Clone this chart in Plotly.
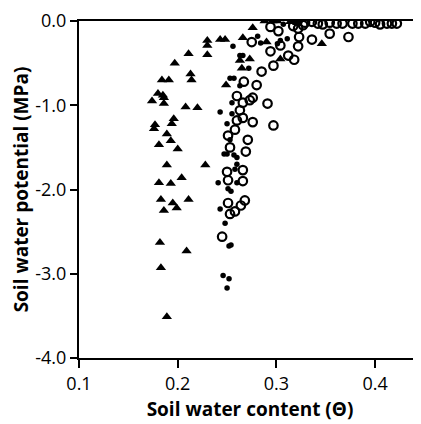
import plotly.graph_objects as go

# filled triangles
tri_x = [0.288, 0.296, 0.301, 0.314, 0.319, 0.321, 0.276, 0.230, 0.230, 0.230,
         0.243, 0.248, 0.266, 0.290, 0.346, 0.211, 0.197, 0.213, 0.214, 0.184,
         0.191, 0.263, 0.273, 0.265, 0.304, 0.180, 0.185, 0.186, 0.186, 0.174,
         0.249, 0.208, 0.220, 0.196, 0.194, 0.177, 0.176, 0.189, 0.181, 0.193,
         0.200, 0.189, 0.228, 0.181, 0.193, 0.204, 0.183, 0.195, 0.199, 0.211,
         0.186, 0.182, 0.209, 0.183, 0.189]
tri_y = [0.00, 0.00, 0.00, -0.01, 0.00, -0.02, -0.08, -0.23, -0.29, -0.40,
         -0.22, -0.22, -0.20, -0.25, -0.27, -0.39, -0.50, -0.63, -0.70, -0.70,
         -0.70, -0.47, -0.45, -0.56, -0.45, -0.86, -0.88, -0.91, -0.98, -0.95,
         -0.76, -1.02, -1.03, -1.16, -1.22, -1.23, -1.28, -1.34, -1.47, -1.42,
         -1.52, -1.71, -1.71, -1.92, -1.93, -1.86, -2.12, -2.16, -2.22, -2.12,
         -2.25, -2.63, -2.73, -2.93, -3.51]

# small filled dots
dot_x = [0.256, 0.281, 0.284, 0.263, 0.266, 0.272, 0.253, 0.257, 0.263, 0.255,
         0.243, 0.255, 0.250, 0.253, 0.301, 0.304, 0.311, 0.247, 0.250, 0.257,
         0.260, 0.260, 0.258, 0.241, 0.260, 0.251, 0.254, 0.243, 0.248, 0.252,
         0.254, 0.246, 0.252, 0.250, 0.307, 0.324]
dot_y = [-0.30, -0.18, -0.26, -0.41, -0.41, -0.56, -0.68, -0.68, -0.77, -0.97,
         -1.08, -1.10, -1.22, -1.41, -0.27, -0.23, -0.21, -1.58, -1.58, -1.59,
         -1.62, -1.70, -1.76, -1.92, -1.92, -1.99, -2.02, -2.23, -2.40, -2.67,
         -2.66, -3.02, -3.06, -3.17, -0.04, -0.01]

# open circles
circ_x = [0.329, 0.336, 0.342, 0.347, 0.354, 0.361, 0.367, 0.377, 0.383, 0.390,
          0.395, 0.400, 0.405, 0.412, 0.417, 0.422,
          0.294, 0.302, 0.317, 0.322, 0.327, 0.275, 0.304, 0.294, 0.323, 0.336,
          0.354, 0.373, 0.322, 0.312, 0.318, 0.297, 0.285, 0.267, 0.280, 0.260,
          0.266, 0.273, 0.276, 0.291, 0.263, 0.260, 0.266, 0.276, 0.297, 0.258,
          0.251, 0.271, 0.253, 0.269, 0.250, 0.266, 0.251, 0.266, 0.251, 0.268,
          0.264, 0.258, 0.253, 0.245]
circ_y = [-0.02, -0.01, -0.03, -0.04, -0.02, -0.03, -0.03, -0.03, -0.03, -0.03,
          -0.01, -0.02, -0.04, -0.03, -0.03, -0.03,
          -0.07, -0.12, -0.06, -0.09, -0.05, -0.25, -0.29, -0.36, -0.19, -0.22,
          -0.15, -0.19, -0.30, -0.41, -0.46, -0.53, -0.60, -0.72, -0.76, -0.89,
          -0.97, -0.94, -0.91, -0.98, -1.06, -1.18, -1.15, -1.20, -1.24, -1.29,
          -1.36, -1.41, -1.50, -1.55, -1.79, -1.77, -1.89, -1.90, -2.16, -2.13,
          -2.19, -2.26, -2.29, -2.56]

x_ticks = [0.1, 0.2, 0.3, 0.4]
x_labels = ["0.1", "0.2", "0.3", "0.4"]
y_ticks = [-4.0, -3.0, -2.0, -1.0, 0.0]
y_labels = ["-4.0", "-3.0", "-2.0", "-1.0", "0.0"]

fig = go.Figure()
fig.add_trace(go.Scatter(x=tri_x, y=tri_y, mode="markers",
                         marker=dict(symbol="triangle-up", size=9, color="black")))
fig.add_trace(go.Scatter(x=dot_x, y=dot_y, mode="markers",
                         marker=dict(symbol="circle", size=5.5, color="black")))
fig.add_trace(go.Scatter(x=circ_x, y=circ_y, mode="markers",
                         marker=dict(symbol="circle-open", size=8.5, color="black",
                                     line=dict(width=2.2, color="black"))))

font = "Open Sans, Arial, sans-serif"
# the page body has an 8px margin, so the figure is offset by 8px
fig.update_layout(
    width=413, height=416,
    margin=dict(l=71, r=0, t=9, b=66),
    paper_bgcolor="white", plot_bgcolor="white",
    showlegend=False,
    font=dict(family=font, size=16, color="black"),
)
fig.update_xaxes(
    range=[0.1, 0.4465], tickvals=x_ticks, ticktext=x_labels,
    tickfont=dict(size=18), ticklabeloverflow="allow",
    showline=True, linecolor="black", linewidth=2, mirror=True,
    ticks="outside", ticklen=8, tickwidth=2, tickcolor="black",
    showgrid=False, zeroline=False,
    title=dict(text="<b>Soil water content (Θ)</b>", standoff=9),
)
fig.update_yaxes(
    range=[-4.0, 0.0], tickvals=y_ticks, ticktext=y_labels,
    tickfont=dict(size=18), ticklabeloverflow="allow",
    showline=True, linecolor="black", linewidth=2,
    ticks="outside", ticklen=7, tickwidth=2, tickcolor="black",
    showgrid=False, zeroline=False,
    title=dict(text="<b>Soil water potential (MPa)</b>", standoff=9),
)

fig.write_html("out.html")
